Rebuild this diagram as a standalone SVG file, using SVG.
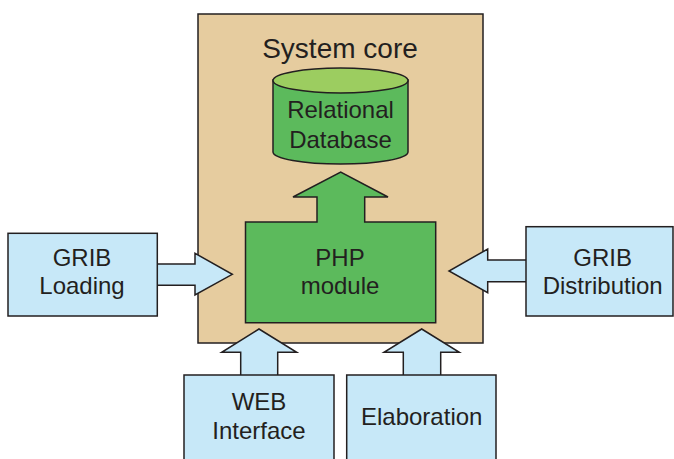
<svg xmlns="http://www.w3.org/2000/svg" width="674" height="459" viewBox="0 0 674 459">
<style>
.s{stroke:#231F20;stroke-width:1.5;stroke-linejoin:miter}
.blue{fill:#C7E8F8}
.green{fill:#5CBA5C}
.t{font-family:"Liberation Sans",Arial,sans-serif;font-size:24px;fill:#231F20;text-anchor:middle}
</style>
<rect width="674" height="459" fill="#ffffff"/>
<g id="core">
<rect class="s" x="198" y="14" width="285" height="329" fill="#E6CC9F"/>
<text class="t" x="340" y="58" style="font-size:28px">System core</text>
</g>
<g id="db">
<path class="s green" d="M273,80 L273,152 A67.5,12 0 0 0 408,152 L408,80 Z"/>
<ellipse class="s" cx="340.5" cy="80.5" rx="67.5" ry="12.5" fill="#9CCD60"/>
<text class="t" x="340.5" y="118">Relational</text>
<text class="t" x="340.5" y="148">Database</text>
</g>
<g id="php">
<path class="s green" d="M245.5,222 L317,222 L317,197 L293,197 L340.7,172 L388,197 L364.7,197 L364.7,222 L435.7,222 L435.7,322.7 L245.5,322.7 Z"/>
<text class="t" x="340" y="266">PHP</text>
<text class="t" x="340" y="294">module</text>
</g>
<g id="connectors">
<path class="s blue" d="M157.3,264 L195,264 L195,253.3 L232.3,274.3 L195,295 L195,285.3 L157.3,285.3"/>
<path class="s blue" d="M526,260 L487.7,260 L487.7,249 L449,271 L487.7,292.7 L487.7,281.7 L526,281.7"/>
<path class="s blue" d="M240.7,375 L240.7,352.3 L221.7,352.3 L259,329 L296.7,352.3 L277.7,352.3 L277.7,375"/>
<path class="s blue" d="M403.3,375 L403.3,352.3 L384,352.3 L421.7,329 L459.3,352.3 L440.7,352.3 L440.7,375"/>
</g>
<g id="grib-loading">
<rect class="s blue" x="8" y="233.3" width="149.3" height="82.7"/>
<text class="t" x="82" y="265.7">GRIB</text>
<text class="t" x="82" y="294">Loading</text>
</g>
<g id="grib-distribution">
<rect class="s blue" x="526" y="226.7" width="147" height="89.3"/>
<text class="t" x="602.7" y="265.7">GRIB</text>
<text class="t" x="602.7" y="294">Distribution</text>
</g>
<g id="web-interface">
<rect class="s blue" x="184" y="375" width="150" height="95"/>
<text class="t" x="259" y="410">WEB</text>
<text class="t" x="259" y="439">Interface</text>
</g>
<g id="elaboration">
<rect class="s blue" x="346.7" y="375" width="149.3" height="95"/>
<text class="t" x="421.7" y="425">Elaboration</text>
</g>
</svg>
